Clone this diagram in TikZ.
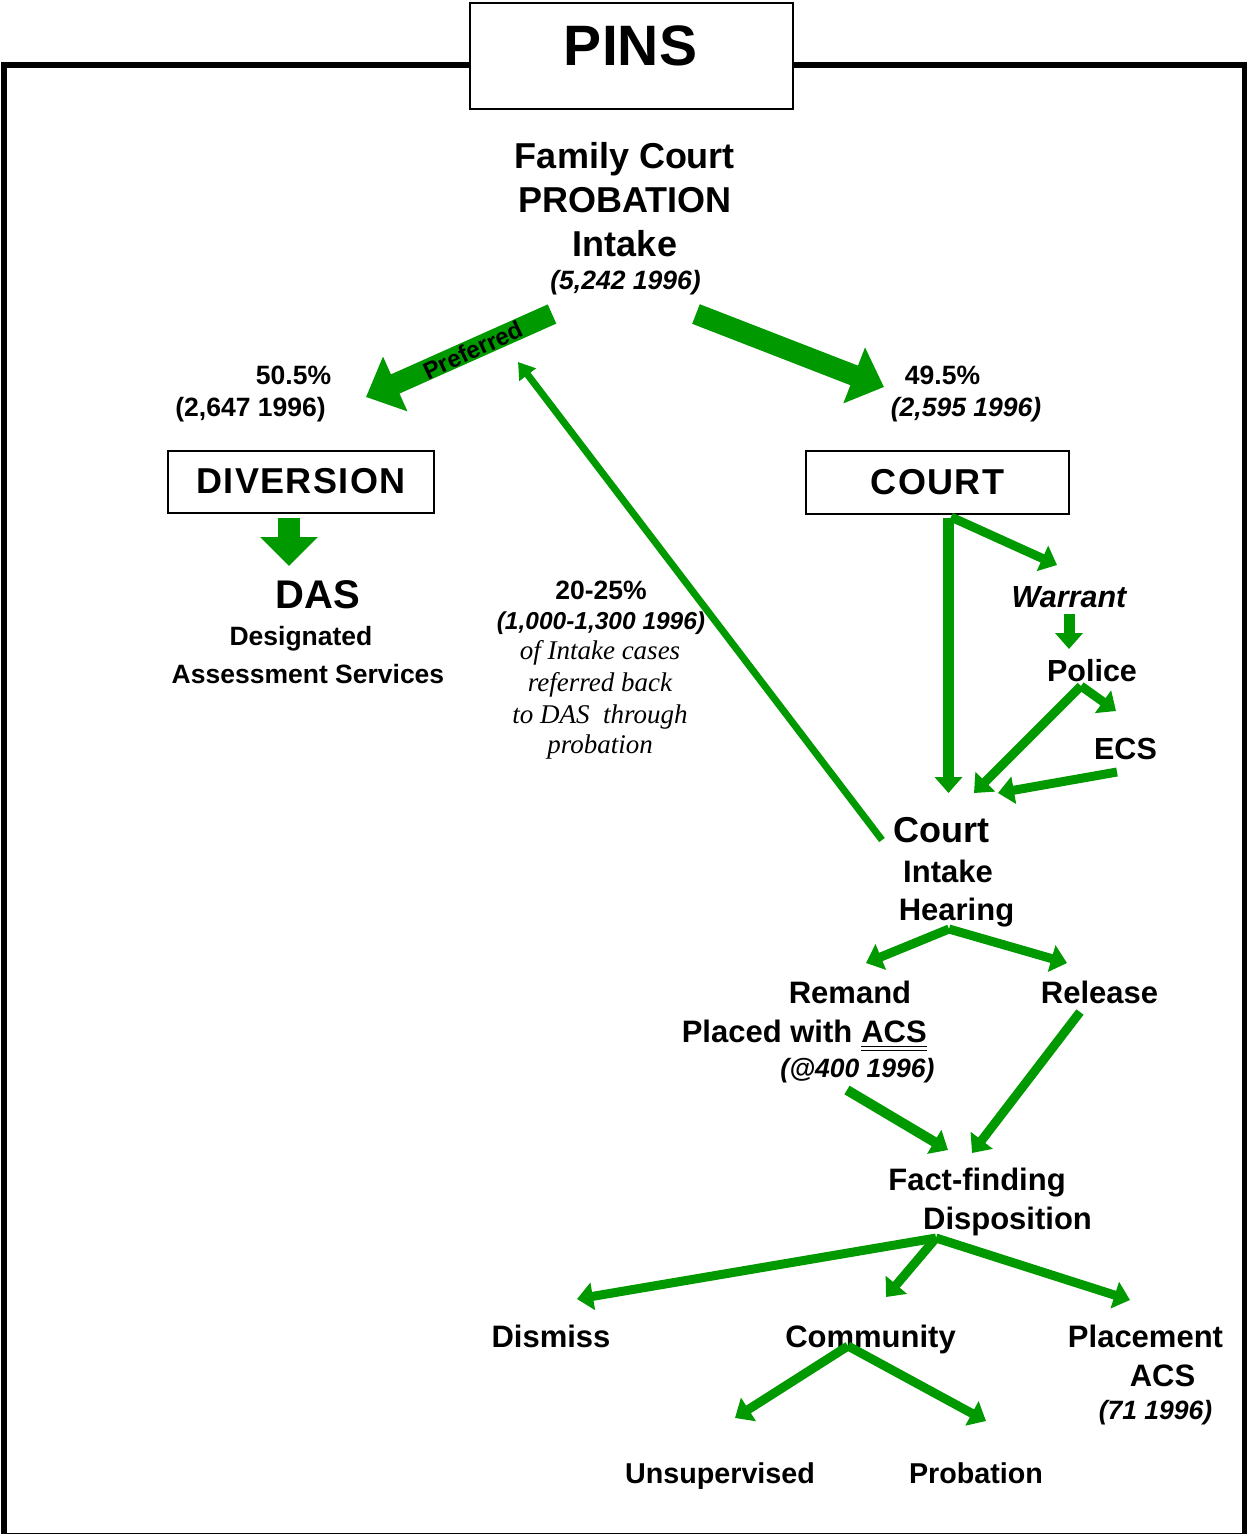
\documentclass[tikz,border=0pt]{standalone}
\usepackage{fontspec}
\setmainfont{Liberation Sans}
\newfontfamily\serifit{Liberation Serif}
\newfontfamily\boxfont[LetterSpace=4.0]{Liberation Sans}
\usetikzlibrary{arrows.meta}
\definecolor{gr}{RGB}{0,153,0}
\newcommand{\fs}[1]{\fontsize{#1}{#1}\selectfont}
\begin{document}
\begin{tikzpicture}[x=1pt,y=-1pt,
  t/.style={inner sep=0pt, anchor=base},
  b36/.style={t, font=\bfseries\fs{36}},
  b31/.style={t, font=\bfseries\fs{31}},
  b29/.style={t, font=\bfseries\fs{28.7}},
  b26/.style={t, font=\bfseries\fs{26.5}},
  bi26/.style={t, font=\bfseries\itshape\fs{26.5}},
  si/.style={t, font=\serifit\itshape\fs{27}},
  boxx/.style={draw, line width=2pt, inner sep=0pt, font=\boxfont\bfseries\fs{36}},
  ga/.style={draw=gr, line width=9pt, -{Triangle[width=27pt,length=16pt]}},
  gthin/.style={draw=gr, line width=7pt, -{Triangle[width=20pt,length=16pt]}},
  gblock/.style={draw=gr, line width=21pt, -{Triangle[width=58pt,length=32pt]}},
  gsmall/.style={draw=gr, line width=22pt, -{Triangle[width=56pt,length=29pt]}}
]
\useasboundingbox (0,0) rectangle (1247,1535);
\fill[white] (0,0) rectangle (1247,1535);
% frame
\draw[line width=6pt] (470,65) -- (4.2,65) -- (4.2,1533.5);
\draw[line width=6pt] (793,65) -- (1244.5,65) -- (1244.5,1533.5);
\draw[line width=1.3pt] (4.2,1533.5) -- (1244.5,1533.5);
% title box
\node[boxx, minimum width=323pt, minimum height=106pt] (pinsbox) at (631.5,56) {};
\node[t, font=\bfseries\fs{57}] (pins) at (630.5,65) {PINS};
% intake
\node[b36] (fc) at (625,168) {Family Court};
\node[b36] (prob) at (625,212) {PROBATION};
\node[b36] (intake) at (625,256) {Intake};
\node[bi26] (n5242) at (625.5,289) {(5,242 1996)};
% percentages
\node[b26] (p505) at (293.5,384) {50.5\%};
\node[b26] (n2647) at (250.5,416) {(2,647 1996)};
\node[b26] (p495) at (942.5,384) {49.5\%};
\node[bi26] (n2595) at (966,416) {(2,595 1996)};
% boxes
\node[boxx, minimum width=266pt, minimum height=62pt] (div) at (301,481.5) {DIVERSION};
\node[boxx, minimum width=263pt, minimum height=63pt] (court) at (937.5,482.5) {COURT};
% DAS
\node[t, font=\bfseries\fs{40}] (das) at (317.5,608.5) {DAS};
\node[b26] (desig) at (301,645) {Designated};
\node[b26] (assess) at (308,683) {Assessment Services};
% referral text
\node[b26] (p2025) at (601,599) {20-25\%};
\node[t, font=\bfseries\itshape\fs{24.5}] (n1000) at (601,629) {(1,000-1,300 1996)};
\node[si] (r1) at (600,659) {of Intake cases};
\node[si] (r2) at (600,691) {referred back};
\node[si] (r3) at (600,723) {to DAS\ \ through};
\node[si] (r4) at (600,753) {probation};
% court side
\node[t, font=\bfseries\itshape\fs{30.5}] (warrant) at (1069,607) {Warrant};
\node[t, font=\bfseries\fs{30.5}] (police) at (1092,681) {Police};
\node[t, font=\bfseries\fs{30.5}] (ecs) at (1125.5,759) {ECS};
\node[b36] (ci1) at (941.5,842) {Court};
\node[b31] (ci2) at (948,882) {Intake};
\node[b31] (ci3) at (956.5,920) {Hearing};
\node[b31] (remand) at (850,1003) {Remand};
\node[b31, anchor=base east] (acs1) at (927,1042) {ACS};
\node[b31, anchor=base east] (placed) at ([xshift=-8.6pt]acs1.base west) {Placed with};
\draw[line width=1.3pt] ([yshift=-4.5pt]acs1.base west) -- ([yshift=-4.5pt]acs1.base east);
\draw[line width=1.3pt] ([yshift=-8.5pt]acs1.base west) -- ([yshift=-8.5pt]acs1.base east);
\node[bi26] (n400) at (857.5,1077) {(@400 1996)};
\node[b31] (release) at (1099.5,1003) {Release};
\node[b31] (fact) at (977,1190) {Fact-finding};
\node[b31] (dispo) at (1007.5,1229) {Disposition};
\node[b31] (dismiss) at (551,1347) {Dismiss};
\node[b31] (comm) at (870.5,1347) {Community};
\node[b31] (place) at (1145.5,1347) {Placement};
\node[b31] (acs2) at (1162.5,1386) {ACS};
\node[bi26] (n71) at (1155.5,1419) {(71 1996)};
\node[b29] (unsup) at (720,1483) {Unsupervised};
\node[b29] (probn) at (976,1483) {Probation};
% coordinates
\coordinate (prefTail) at (552,314);
\coordinate (prefTip) at (366,397);
\coordinate (crtTail) at (696,314);
\coordinate (crtTip) at (884,387);
\coordinate (dasTail) at (289,518);
\coordinate (dasTip) at (289,566);
\coordinate (backTail) at (882,840);
\coordinate (backTip) at (518,362);
\coordinate (cSplitV) at (948.5,518);
\coordinate (cSplitD) at (951,517);
\coordinate (vTip) at (948.5,793);
\coordinate (wTip) at (1057,565);
\coordinate (wpTail) at (1069,614);
\coordinate (wpTip) at (1069,649);
\coordinate (polSplit) at (1081,686);
\coordinate (pcTip) at (974,793);
\coordinate (peTip) at (1116,711);
\coordinate (ecsTail) at (1117,772);
\coordinate (ecTip) at (998,793);
\coordinate (hSplit) at (949,929);
\coordinate (remTip) at (866,963);
\coordinate (relTip) at (1067,963);
\coordinate (remTail) at (847,1090);
\coordinate (remFTip) at (948,1150);
\coordinate (relTail) at (1080,1012);
\coordinate (relFTip) at (972,1153);
\coordinate (dSplit) at (936,1238);
\coordinate (disTip) at (577,1299);
\coordinate (comTip) at (886,1297);
\coordinate (plaTip) at (1130,1300);
\coordinate (cSplit) at (848,1346);
\coordinate (unTip) at (735,1418);
\coordinate (prTip) at (986,1421);
% block arrows
\draw[gblock] (prefTail) -- (prefTip);
\node[t, anchor=center, rotate=25, font=\bfseries\fs{24}] (pref) at (473,350) {Preferred};
\draw[gblock] (crtTail) -- (crtTip);
\draw[gsmall] (dasTail) -- (dasTip);
% back arrow
\draw[gthin] (backTail) -- (backTip);
% court side arrows
\draw[ga, line width=10.5pt] (cSplitV) -- (vTip);
\draw[ga] (cSplitD) -- (wTip);
\draw[ga, line width=11pt] (wpTail) -- (wpTip);
\draw[ga] (polSplit) -- (pcTip);
\draw[ga] (polSplit) -- (peTip);
\draw[ga] (ecsTail) -- (ecTip);
\draw[ga] (hSplit) -- (remTip);
\draw[ga] (hSplit) -- (relTip);
\draw[ga, line width=10pt] (remTail) -- (remFTip);
\draw[ga] (relTail) -- (relFTip);
\draw[ga] (dSplit) -- (disTip);
\draw[ga] (dSplit) -- (comTip);
\draw[ga] (dSplit) -- (plaTip);
\draw[ga] (cSplit) -- (unTip);
\draw[ga] (cSplit) -- (prTip);
\end{tikzpicture}
\end{document}
